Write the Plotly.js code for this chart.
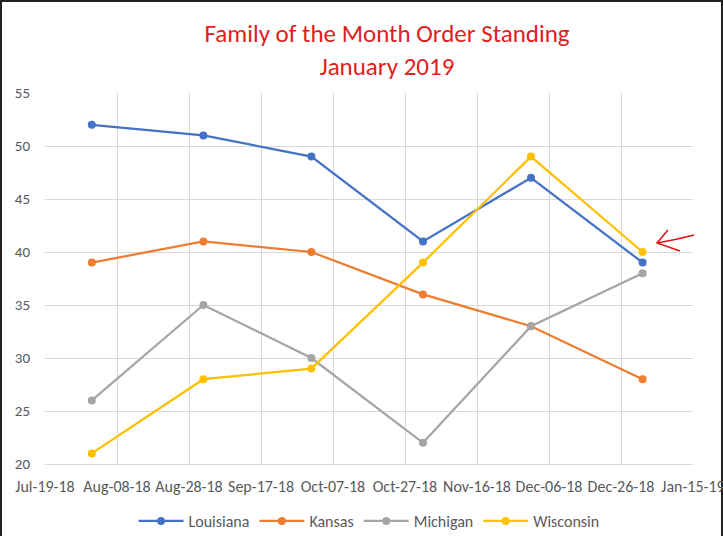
<!DOCTYPE html>
<html><head><meta charset="utf-8">
<script src="https://cdn.plot.ly/plotly-3.0.1.min.js"></script>
<style>html,body{margin:0;padding:0;background:#fff;}#wrap{position:relative;width:723px;height:536px;box-sizing:border-box;border-left:2px solid #222;border-top:2px solid #222;border-right:2px solid #222;}#chart{position:absolute;left:-2px;top:-2px;width:723px;height:536px;}</style>
</head><body><div id="wrap"><div id="chart"></div></div>
<script>
const dates = ["2018-08-01","2018-09-01","2018-10-01","2018-11-01","2018-12-01","2019-01-01"];
const louisiana = [52,51,49,41,47,39];
const kansas = [39,41,40,36,33,28];
const michigan = [26,35,30,22,33,38];
const wisconsin = [21,28,29,39,49,40];
const names = ["Louisiana","Kansas","Michigan","Wisconsin"];
const colors = ["#4472C4","#ED7D31","#A5A5A5","#FFC000"];
const series = [louisiana,kansas,michigan,wisconsin];
const FONT = "Carlito, Lato, 'Open Sans', sans-serif";
const traces = series.map((s,i)=>({x:dates,y:s,name:names[i],type:'scatter',mode:'lines+markers',
  line:{color:colors[i],width:2.25},marker:{color:colors[i],size:8}}));
// pixel -> paper helpers for the hand-drawn arrow
const L=45,R=693,T=93,B=464;
const px=x=>(x-L)/(R-L), py=y=>(B-y)/(B-T);
const arrow = `M ${px(694)} ${py(235)} Q ${px(675)} ${py(240)} ${px(657)} ${py(243)} M ${px(668)} ${py(230)} L ${px(657)} ${py(243)} L ${px(680)} ${py(251)}`;
const layout = {
  width:723,height:536,
  margin:{l:L,r:723-R,t:T,b:536-B,autoexpand:false},
  paper_bgcolor:'rgba(0,0,0,0)',plot_bgcolor:'#fff',
  font:{family:FONT,color:'#595959',size:15},
  title:{text:"Family of the Month Order Standing<br>January 2019",font:{family:FONT,size:25,color:'#E0201B'},
    xref:'container',x:387/723,xanchor:'center',yref:'container',y:(536-42)/536,yanchor:'middle'},
  xaxis:{type:'date',range:["2018-07-19","2019-01-15"],tick0:"2018-07-19",dtick:20*86400000,tickformat:"%b-%d-%y",
    showgrid:true,gridcolor:'#D9D9D9',gridwidth:1,zeroline:false,showline:true,linecolor:'#D9D9D9',ticks:'',
    tickfont:{size:16,color:'#595959'},ticklabelstandoff:8,ticklabeloverflow:'allow',automargin:false,fixedrange:true},
  yaxis:{range:[20,55],dtick:5,tick0:20,showgrid:true,gridcolor:'#D9D9D9',gridwidth:1,zeroline:false,showline:false,ticks:'',
    tickfont:{size:15,color:'#595959'},ticklabelstandoff:14,automargin:false},
  legend:{orientation:'h',x:0.5,xanchor:'center',yref:'container',y:(536-521)/536,yanchor:'middle',
    itemwidth:45,font:{size:16,color:'#595959'}},
  showlegend:true,
  shapes:[{type:'path',xref:'paper',yref:'paper',path:arrow,line:{color:'#E01010',width:1.5}}]
};
Plotly.newPlot('chart',traces,layout,{displayModeBar:false,staticPlot:true});
</script></body></html>
